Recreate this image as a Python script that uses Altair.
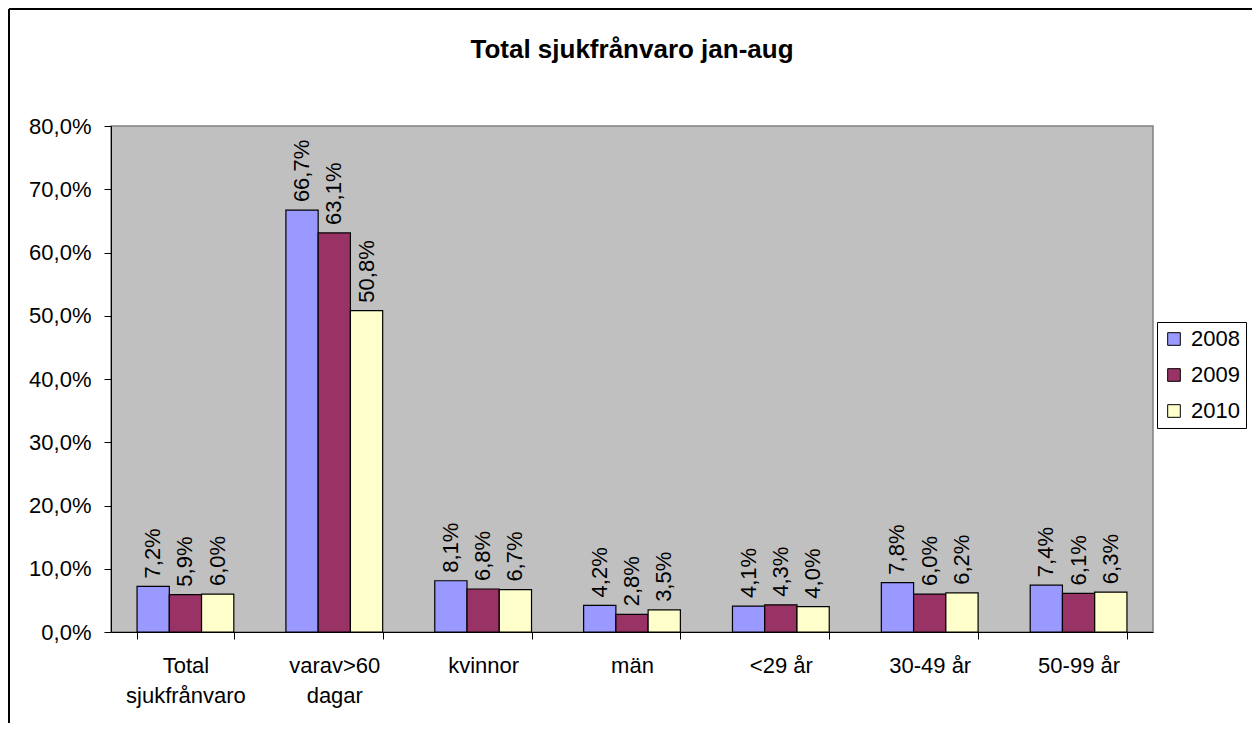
import altair as alt
import pandas as pd

categories = ["Total\nsjukfrånvaro", "varav>60\ndagar", "kvinnor", "män", "<29 år", "30-49 år", "50-99 år"]
years = ["2008", "2009", "2010"]
values_2008 = [7.2, 66.7, 8.1, 4.2, 4.1, 7.8, 7.4]
values_2009 = [5.9, 63.1, 6.8, 2.8, 4.3, 6.0, 6.1]
values_2010 = [6.0, 50.8, 6.7, 3.5, 4.0, 6.2, 6.3]
colors = ["#9999FF", "#993366", "#FFFFCC"]
y_ticks = [0, 10, 20, 30, 40, 50, 60, 70, 80]

rows = []
for yr, vals in zip(years, [values_2008, values_2009, values_2010]):
    for c, v in zip(categories, vals):
        rows.append({"kategori": c, "år": yr, "värde": v})
df = pd.DataFrame(rows)

W, H = 1042, 506
PAD = {"left": 103, "top": 118, "right": 99, "bottom": 91}

xscale = alt.Scale(domain=categories, paddingInner=0.35, paddingOuter=0.175)
x_enc = alt.X(
    "kategori:N",
    sort=categories,
    scale=xscale,
    title=None,
    axis=alt.Axis(
        labelAngle=0,
        tickBand="extent",
        tickSize=7,
        tickColor="black",
        domainColor="black",
        labelFontSize=22,
        labelPadding=16,
        labelLineHeight=30,
        labelColor="black",
        labelExpr="split(datum.label, '\\n')",
        grid=False,
    ),
)
y_enc = alt.Y(
    "värde:Q",
    scale=alt.Scale(domain=[0, 80], nice=False),
    title=None,
    axis=alt.Axis(
        values=y_ticks,
        tickSize=7,
        tickColor="black",
        domainColor="black",
        labelFontSize=22,
        labelPadding=13,
        labelColor="black",
        labelExpr="replace(format(datum.value, '.1f'), '.', ',') + '%'",
        grid=False,
    ),
)
xoff = alt.XOffset("år:N", sort=years)

base = alt.Chart(df)

bars = base.mark_bar(stroke="black", strokeWidth=1.2).encode(
    x=x_enc,
    xOffset=xoff,
    y=y_enc,
    color=alt.Color(
        "år:N",
        sort=years,
        scale=alt.Scale(domain=years, range=colors),
        legend=alt.Legend(
            title=None,
            orient="none",
            legendX=1046,
            legendY=196,
            fillColor="white",
            strokeColor="black",
            padding=6,
            symbolType="square",
            symbolSize=160,
            symbolStrokeColor="black",
            symbolStrokeWidth=1,
            labelFontSize=22,
            labelOffset=6,
            labelColor="black",
            rowPadding=14,
        ),
    ),
)

labels = base.transform_calculate(
    etikett="replace(format(datum['värde'], '.1f'), '.', ',') + '%'"
).mark_text(
    angle=270, align="left", baseline="middle", dx=8, fontSize=22, color="black"
).encode(
    x=x_enc,
    xOffset=xoff,
    y=y_enc,
    text="etikett:N",
)

frame_df = pd.DataFrame({"k": [0]})
left_line = alt.Chart(frame_df).mark_rule(color="black", strokeWidth=2).encode(
    x=alt.value(-102), y=alt.value(-117), y2=alt.value(H + PAD["bottom"])
)
top_line = alt.Chart(frame_df).mark_rule(color="black", strokeWidth=2).encode(
    y=alt.value(-117), x=alt.value(-102), x2=alt.value(W + PAD["right"])
)

chart = alt.layer(bars, labels, left_line, top_line).properties(
    width=W,
    height=H,
    title=alt.TitleParams(
        "Total sjukfrånvaro jan-aug",
        fontSize=26,
        fontWeight="bold",
        anchor="middle",
        frame="group",
        baseline="alphabetic",
        offset=-76,
        color="black",
    ),
    autosize=alt.AutoSizeParams(type="none"),
    padding=PAD,
).configure(
    font="Liberation Sans",
    background="white",
).configure_view(
    fill="#C0C0C0",
    stroke="#808080",
    strokeWidth=1.5,
)

chart.save("out.html", embed_options={"renderer": "svg", "actions": False})
